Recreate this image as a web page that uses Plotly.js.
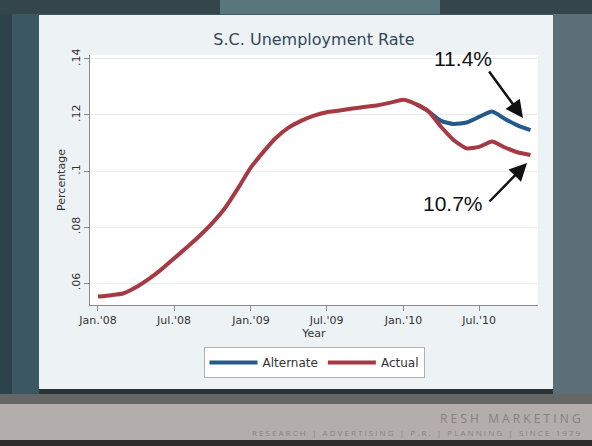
<!DOCTYPE html>
<html>
<head>
<meta charset="utf-8">
<script src="https://cdn.plot.ly/plotly-3.0.1.min.js"></script>
<style>html,body{margin:0;padding:0;background:#41575e;}#chart{width:592px;height:446px;}</style>
</head>
<body>
<div id="chart"></div>
<script>
const months = ["2008-01-01","2008-02-01","2008-03-01","2008-04-01","2008-05-01","2008-06-01",
"2008-07-01","2008-08-01","2008-09-01","2008-10-01","2008-11-01","2008-12-01",
"2009-01-01","2009-02-01","2009-03-01","2009-04-01","2009-05-01","2009-06-01",
"2009-07-01","2009-08-01","2009-09-01","2009-10-01","2009-11-01","2009-12-01",
"2010-01-01","2010-02-01","2010-03-01","2010-04-01","2010-05-01","2010-06-01",
"2010-07-01","2010-08-01","2010-09-01","2010-10-01","2010-11-01"];
const actual = [0.0552,0.0557,0.0563,0.0585,0.0614,0.0649,0.0688,0.0728,0.0770,0.0815,0.0870,0.0938,
0.1013,0.1070,0.1117,0.1155,0.1179,0.1198,0.1210,0.1216,0.1223,0.1229,0.1235,0.1244,
0.1254,0.1238,0.1214,0.1158,0.1111,0.1081,0.1086,0.1105,0.1084,0.1067,0.1057];
const altMonths = ["2010-02-01","2010-03-01","2010-04-01","2010-05-01","2010-06-01",
"2010-07-01","2010-08-01","2010-09-01","2010-10-01","2010-11-01"];
const alternate = [0.1238,0.1214,0.1179,0.1168,0.1173,0.1193,0.1212,0.1186,0.1163,0.1146];
const xTickVals = ["2008-01-01","2008-07-01","2009-01-01","2009-07-01","2010-01-01","2010-07-01"];
const xTickText = ["Jan.'08","Jul.'08","Jan.'09","Jul.'09","Jan.'10","Jul.'10"];
const yTickVals = [0.06,0.08,0.10,0.12,0.14];
const yTickText = [".06",".08",".1",".12",".14"];

// pixel -> paper helpers (plot area: x 90..538, y 55..305)
const L=90,R=538,T=55,B=305;
const px = v => (v-L)/(R-L);
const py = v => (B-v)/(B-T);
function rect(x0,y0,x1,y1,color){
  return {type:'rect',xref:'paper',yref:'paper',x0:px(x0),x1:px(x1),y0:py(y1),y1:py(y0),
    fillcolor:color,line:{width:0},layer:'below'};
}

const traces = [
  {x:altMonths,y:alternate,name:'Alternate',type:'scatter',mode:'lines',
   line:{color:'#24598a',width:4,shape:'spline',smoothing:0.5}},
  {x:months,y:actual,name:'Actual',type:'scatter',mode:'lines',
   line:{color:'#a63a44',width:4,shape:'spline',smoothing:0.5}}
];

const font = "DejaVu Sans, Arial, sans-serif";
const layout = {
  width:592,height:446,
  margin:{l:L,r:592-R,t:T,b:446-B,pad:0},
  paper_bgcolor:'#41575e',
  plot_bgcolor:'#ffffff',
  showlegend:true,
  font:{family:font,color:'#333333',size:11},
  title:{text:'S.C. Unemployment Rate',font:{family:font,size:16,color:'#34475a'},
    x:px(314),xref:'paper',xanchor:'center',y:1-39/446,yref:'container',yanchor:'middle'},
  xaxis:{type:'date',range:['2007-12-13','2010-11-19'],tickvals:xTickVals,ticktext:xTickText,
    showgrid:false,zeroline:false,showline:true,linecolor:'#8a8a8a',linewidth:1,
    ticks:'outside',ticklen:5,tickcolor:'#8a8a8a',tickfont:{family:font,size:11,color:'#333'},
    title:{text:'Year',font:{family:font,size:11,color:'#333'},standoff:0}},
  yaxis:{range:[0.0522,0.1414],tickvals:yTickVals,ticktext:yTickText,tickangle:-90,
    showgrid:true,gridcolor:'#ececec',gridwidth:1,zeroline:false,showline:true,linecolor:'#8a8a8a',
    linewidth:1,ticks:'outside',ticklen:5,tickcolor:'#8a8a8a',tickfont:{family:font,size:11,color:'#333'},
    title:{text:'Percentage',font:{family:font,size:11,color:'#333'},standoff:1}},
  legend:{orientation:'h',x:px(314),xanchor:'center',y:py(347),yanchor:'top',
    bgcolor:'#ffffff',bordercolor:'#b0b0b0',borderwidth:1,font:{family:font,size:12,color:'#333'},
    itemwidth:48,traceorder:'normal'},
  shapes:[
    rect(0,0,592,446,'#41575e'),
    rect(0,0,592,14,'#34464c'),
    rect(220,0,440,14,'#5a767d'),
    rect(0,14,39,404,'#3b5862'),
    rect(0,14,12,404,'#2c434b'),
    rect(553,14,592,404,'#5c6f76'),
    rect(39,389,553,394,'#2a3336'),
    rect(0,394,592,404,'#666666'),
    rect(0,404,592,440,'#b3adab'),
    rect(0,440,592,446,'#2c2c2c'),
    rect(39,15,553,389,'#edf2f4'),
    rect(L,T,R,B,'#ffffff')
  ],
  annotations:[
    {xref:'paper',yref:'paper',x:px(463),y:py(58),xanchor:'center',yanchor:'middle',text:'11.4%',showarrow:false,
      font:{family:'Liberation Sans, Arial, sans-serif',size:21,color:'#111'}},
    {xref:'paper',yref:'paper',x:px(453),y:py(203),xanchor:'center',yanchor:'middle',text:'10.7%',showarrow:false,
      font:{family:'Liberation Sans, Arial, sans-serif',size:21,color:'#111'}},
    {xref:'paper',yref:'paper',x:px(523),y:py(118),ax:-35,ay:-48,axref:'pixel',ayref:'pixel',
      text:'',showarrow:true,arrowhead:2,arrowsize:1.4,arrowwidth:2.5,arrowcolor:'#111'},
    {xref:'paper',yref:'paper',x:px(527),y:py(163),ax:-39,ay:40,axref:'pixel',ayref:'pixel',
      text:'',showarrow:true,arrowhead:2,arrowsize:1.4,arrowwidth:2.5,arrowcolor:'#111'},
    {xref:'paper',yref:'paper',x:px(583),y:py(418),xanchor:'right',yanchor:'middle',showarrow:false,
      text:'R E S H   M A R K E T I N G',font:{family:'Open Sans, sans-serif',size:12,color:'#87817f'}},
    {xref:'paper',yref:'paper',x:px(583),y:py(432),xanchor:'right',yanchor:'middle',showarrow:false,
      text:'R E S E A R C H   |   A D V E R T I S I N G   |   P . R .   |   P L A N N I N G   |   S I N C E   1 9 7 9',
      font:{family:'Open Sans, sans-serif',size:8,color:'#8a8482'}}
  ]
};

Plotly.newPlot('chart',traces,layout,{displayModeBar:false,staticPlot:true});
</script>
</body>
</html>
